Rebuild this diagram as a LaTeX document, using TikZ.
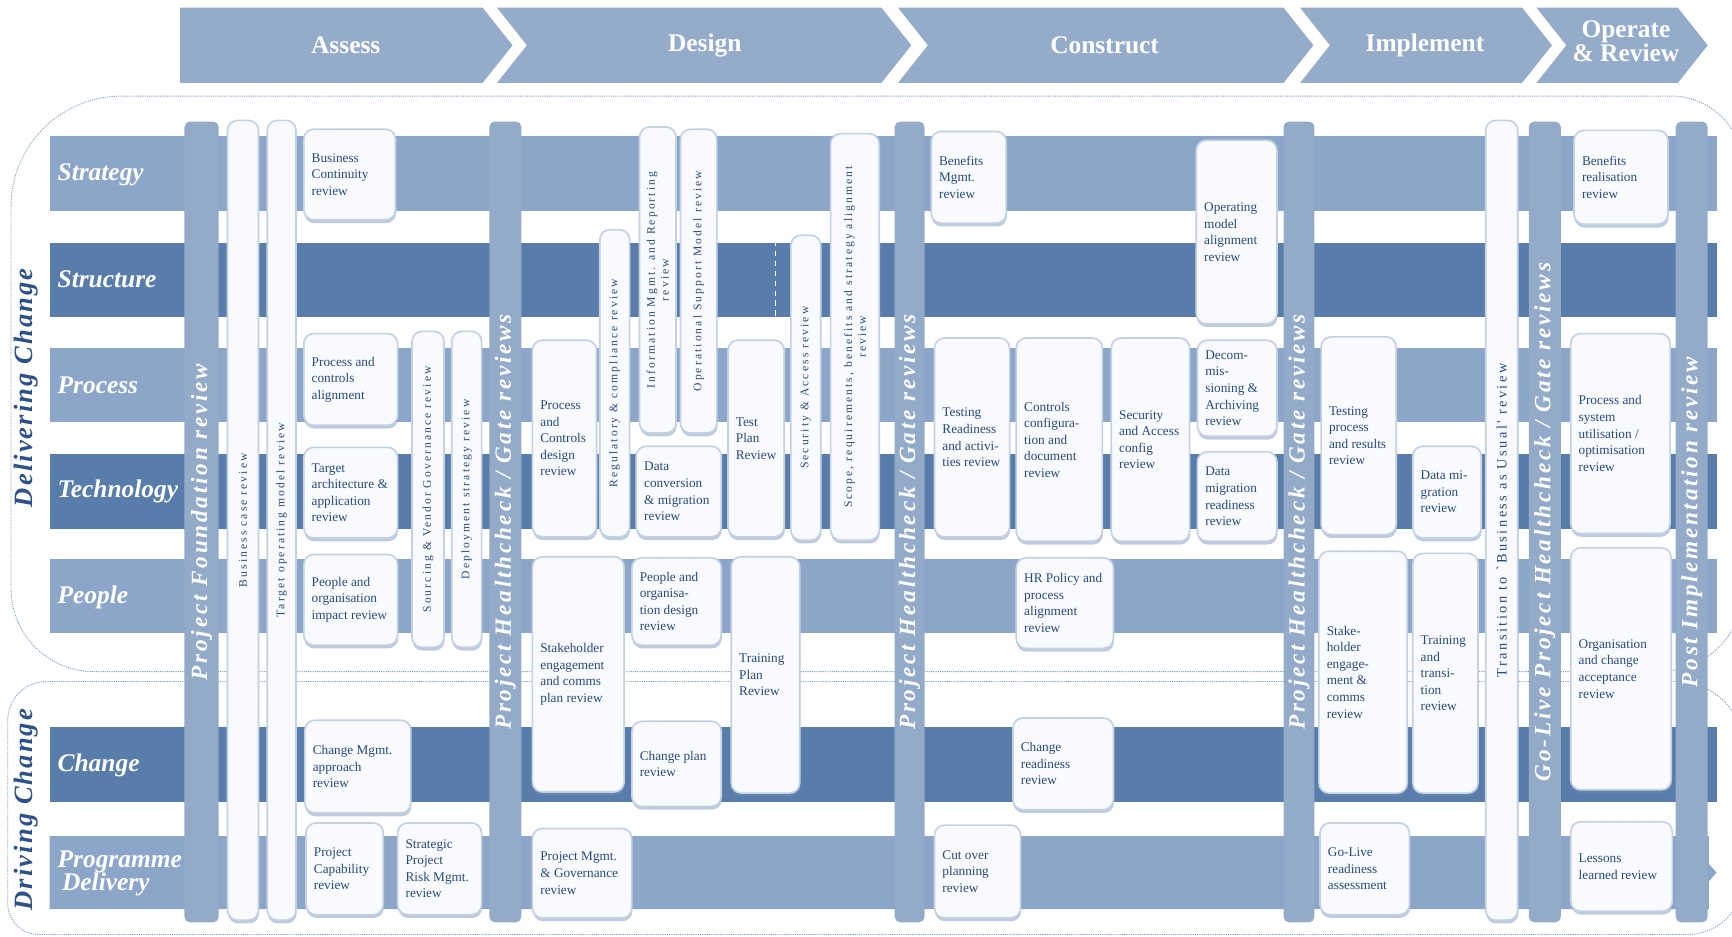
\documentclass[tikz,border=0pt]{standalone}
\usepackage{fontspec}
\setmainfont{Liberation Serif}
\newfontfamily\pillarfont[LetterSpace=12]{Liberation Serif}
\newfontfamily\narrowfont[LetterSpace=18]{Liberation Serif}
\newfontfamily\busfont[LetterSpace=17]{Liberation Serif}
\newfontfamily\regionfont[LetterSpace=8]{Liberation Serif}
\usetikzlibrary{shadows}

\definecolor{bandL}{HTML}{8CA6C9}
\definecolor{bandD}{HTML}{597DAA}
\definecolor{pillarC}{HTML}{93AAC9}
\definecolor{chevC}{HTML}{94ABCA}
\definecolor{boxFill}{HTML}{F8FAFD}
\definecolor{boxLine}{HTML}{C3D1E4}
\definecolor{txtC}{HTML}{274A7E}
\definecolor{regionC}{HTML}{7F9CC5}
\definecolor{regionTxt}{HTML}{2D5089}
\definecolor{shadowC}{HTML}{6F8CB5}

\tikzset{
  chev/.style={fill=chevC},
  chevtext/.style={text=white, font=\fontsize{23}{24}\selectfont\bfseries, align=center, inner sep=0},
  lightband/.style={fill=bandL},
  darkband/.style={fill=bandD},
  rowlab/.style={text=white, font=\fontsize{23}{24}\selectfont\bfseries\itshape, anchor=west, align=left, inner sep=0},
  pillar/.style={fill=pillarC, rounded corners=5pt, inner sep=0, outer sep=0},
  pillartext/.style={text=white, font=\pillarfont\fontsize{21}{21}\selectfont\bfseries\itshape, rotate=90, inner sep=0},
  revbox/.style={fill=boxFill, draw=boxLine, line width=1.5pt, rounded corners=9pt, inner sep=0, outer sep=0,
    drop shadow={shadow xshift=0.5pt, shadow yshift=-3pt, fill=shadowC, opacity=0.45}},
  boxtext/.style={text=txtC, font=\fontsize{12}{15}\selectfont, align=left, inner sep=0, anchor=west},
  vtext/.style={text=txtC, font=\narrowfont\fontsize{10.5}{12.5}\selectfont, align=center, rotate=90, inner sep=0},
  region/.style={draw=regionC, line width=0.8pt, dash pattern=on 1pt off 1pt},
  regionlab/.style={text=regionTxt, font=\regionfont\fontsize{24}{24}\selectfont\bfseries\itshape, rotate=90, inner sep=0},
}

% review box with horizontal text: name, x1, y1, x2, y2, text
\newcommand\pbox[6]{%
  \node[revbox, minimum width={#4-#2}, minimum height={#5-#3}] (#1) at ({(#2+#4)/2},{(#3+#5)/2}) {};
  \node[boxtext] (#1-t) at ([xshift=7pt]#1.west) {#6};
}
% tall review box with upright-rotated text
\newcommand\tallbox[7][vtext]{%
  \node[revbox, minimum width={#5-#3}, minimum height={#6-#4}] (#2) at ({(#3+#5)/2},{(#4+#6)/2}) {};
  \node[#1] (#2-t) at (#2.center) {#7};
}
% blue review pillar spanning all rows
\newcommand\gate[4]{%
  \node[pillar, minimum width={#3-#2}, minimum height=725] (#1) at ({(#2+#3)/2},472.5) {};
  \node[pillartext] (#1-t) at (#1.center) {#4};
}

\begin{document}
\begin{tikzpicture}[x=1pt,y=-1pt]
\useasboundingbox (0,0) rectangle (1568,848);

% ---- phase chevrons ----
\fill[chev] (163,7) -- (437,7) -- (464,41) -- (437,75) -- (163,75) -- cycle;
\fill[chev] (450,7) -- (798,7) -- (825,41) -- (798,75) -- (450,75) -- (477,41) -- cycle;
\fill[chev] (813,7) -- (1162,7) -- (1189,41) -- (1162,75) -- (813,75) -- (840,41) -- cycle;
\fill[chev] (1177,7) -- (1378,7) -- (1405,41) -- (1378,75) -- (1177,75) -- (1204,41) -- cycle;
\fill[chev] (1391,7) -- (1519,7) -- (1546,41) -- (1519,75) -- (1391,75) -- (1418,41) -- cycle;
\node[chevtext] (ph-assess) at (313,41) {Assess};
\node[chevtext] (ph-design) at (638,41) {Design};
\node[chevtext] (ph-construct) at (1000,41) {Construct};
\node[chevtext] (ph-implement) at (1290,41) {Implement};
\node[chevtext] (ph-operate) at (1472,37) {Operate\\[-2pt]\& Review};

% ---- dotted region outlines ----
\draw[region] (10,187) arc[start angle=180, end angle=270, radius=100]
  -- (1513,87) arc[start angle=270, end angle=360, radius=65]
  -- (1578,533) arc[start angle=0, end angle=90, radius=75]
  -- (85,608) arc[start angle=90, end angle=180, radius=75] -- cycle;
\draw[region] (7,652) arc[start angle=180, end angle=270, radius=35]
  -- (1518,617) arc[start angle=270, end angle=360, radius=60]
  -- (1578,796) arc[start angle=0, end angle=90, radius=50]
  -- (35,846) arc[start angle=90, end angle=180, radius=28] -- cycle;
\node[regionlab] (lab-delivering) at (24,351) {Delivering Change};
\node[regionlab] (lab-driving) at (24,733) {Driving Change};

% ---- row bands ----
\fill[lightband] (45,123) rectangle (1554,191);
\fill[darkband]  (45,220) rectangle (1554,287);
\fill[lightband] (45,315) rectangle (1554,382);
\fill[darkband]  (45,411) rectangle (1554,479);
\fill[lightband] (45,506) rectangle (1554,573);
\fill[darkband]  (45,658) rectangle (1554,726);
\fill[lightband] (45,757) -- (1547,757) -- (1547,782) -- (1554,790) -- (1547,798) -- (1547,823) -- (45,823) -- cycle;
\draw[white, line width=1.2pt, dash pattern=on 5pt off 4pt] (702,218) -- (702,290);

\node[rowlab] (row-strategy) at (52,158) {Strategy};
\node[rowlab] (row-structure) at (52,253) {Structure};
\node[rowlab] (row-process) at (52,349) {Process};
\node[rowlab] (row-technology) at (52,445) {Technology};
\node[rowlab] (row-people) at (52,541) {People};
\node[rowlab] (row-change) at (52,693) {Change};
\node[rowlab] (row-programme) at (52,791) {Programme\\[-3pt]\hspace*{4pt}Delivery};

% ---- review pillars ----
\gate{pfr}{167}{198}{Project Foundation review}
\gate{gh1}{443}{472}{Project Healthcheck / Gate reviews}
\gate{gh2}{810}{837}{Project Healthcheck / Gate reviews}
\gate{gh3}{1162}{1190}{Project Healthcheck / Gate reviews}
\gate{glh}{1384}{1413}{Go-Live Project Healthcheck / Gate reviews}
\gate{pir}{1517}{1546}{Post Implementation review}

% ---- Assess ----
\tallbox{bcr}{206}{109}{234}{833}{Business case review}
\tallbox{tomr}{242}{109}{268}{833}{Target operating model review}
\pbox{bcont}{275}{117}{358}{199}{Business\\Continuity\\review}
\pbox{pca}{275}{302}{360}{385}{Process and\\controls\\alignment}
\pbox{taar}{275}{405}{360}{487}{Target\\architecture \&\\application\\review}
\pbox{poir}{275}{502}{360}{584}{People and\\organisation\\impact review}
\tallbox{svgr}{373}{300}{402}{586}{Sourcing \& Vendor Governance review}
\tallbox{dsr}{409}{300}{436}{586}{Deployment strategy review}
\pbox{cmar}{276}{652}{372}{736}{Change Mgmt.\\approach\\review}
\pbox{pcap}{277}{745}{347}{828}{Project\\Capability\\review}
\pbox{sprm}{360}{745}{436}{828}{Strategic\\Project\\Risk Mgmt.\\review}

% ---- Design ----
\pbox{pcdr}{482}{308}{540}{486}{Process\\and\\Controls\\design\\review}
\tallbox{reg}{543}{208}{570}{486}{Regulatory \& compliance review}
\tallbox{imr}{579}{115}{612}{392}{Information Mgmt. and Reporting\\review}
\tallbox{osmr}{616}{117}{649}{392}{Operational Support Model review}
\pbox{dcmr}{576}{404}{653}{486}{Data\\conversion\\\& migration\\review}
\pbox{tpr}{659}{308}{710}{486}{Test\\Plan\\Review}
\tallbox{secr}{716}{213}{743}{489}{Security \& Access review}
\tallbox{scope}{752}{121}{796}{489}{Scope, requirements, benefits and strategy alignment\\review}
\pbox{sceng}{482}{504}{565}{717}{Stakeholder\\engagement\\and comms\\plan review}
\pbox{podr}{572}{505}{653}{584}{People and\\organisa-\\tion design\\review}
\pbox{cpr}{572}{653}{653}{730}{Change plan\\review}
\pbox{trpr}{662}{504}{724}{718}{Training\\Plan\\Review}
\pbox{pmgr}{482}{750}{572}{831}{Project Mgmt.\\\& Governance\\review}

% ---- Construct ----
\pbox{bmr}{843}{119}{911}{202}{Benefits\\Mgmt.\\review}
\pbox{omar}{1083}{127}{1156}{293}{Operating\\model\\alignment\\review}
\pbox{trar}{846}{306}{914}{486}{Testing\\Readiness\\and activi-\\ties review}
\pbox{ccdr}{920}{306}{998}{490}{Controls\\configura-\\tion and\\document\\review}
\pbox{sacr}{1006}{306}{1077}{490}{Security\\and Access\\config\\review}
\pbox{dar}{1084}{308}{1156}{395}{Decom-\\mis-\\sioning \&\\Archiving\\review}
\pbox{dmrr}{1084}{409}{1156}{490}{Data\\migration\\readiness\\review}
\pbox{hrpa}{920}{505}{1008}{587}{HR Policy and\\process\\alignment\\review}
\pbox{crr}{917}{650}{1008}{733}{Change\\readiness\\review}
\pbox{copr}{846}{747}{924}{831}{Cut over\\planning\\review}

% ---- Implement ----
\pbox{tprr}{1196}{305}{1264}{484}{Testing\\process\\and results\\review}
\pbox{dmr}{1279}{404}{1341}{487}{Data mi-\\gration\\review}
\pbox{sec2}{1194}{499}{1274}{718}{Stake-\\holder\\engage-\\ment \&\\comms\\review}
\pbox{ttr}{1279}{501}{1338}{718}{Training\\and\\transi-\\tion\\review}
\pbox{glra}{1195}{745}{1276}{828}{Go-Live\\readiness\\assessment}
\tallbox[vtext, font=\busfont\fontsize{13}{14}\selectfont]{bau}{1345}{109}{1374}{833}{Transition to `Business as Usual' review}

% ---- Operate & Review ----
\pbox{brr}{1425}{118}{1510}{203}{Benefits\\realisation\\review}
\pbox{psuo}{1422}{302}{1512}{483}{Process and\\system\\utilisation /\\optimisation\\review}
\pbox{ocar}{1422}{496}{1513}{715}{Organisation\\and change\\acceptance\\review}
\pbox{llr}{1422}{744}{1514}{825}{Lessons\\learned review}

\end{tikzpicture}
\end{document}
